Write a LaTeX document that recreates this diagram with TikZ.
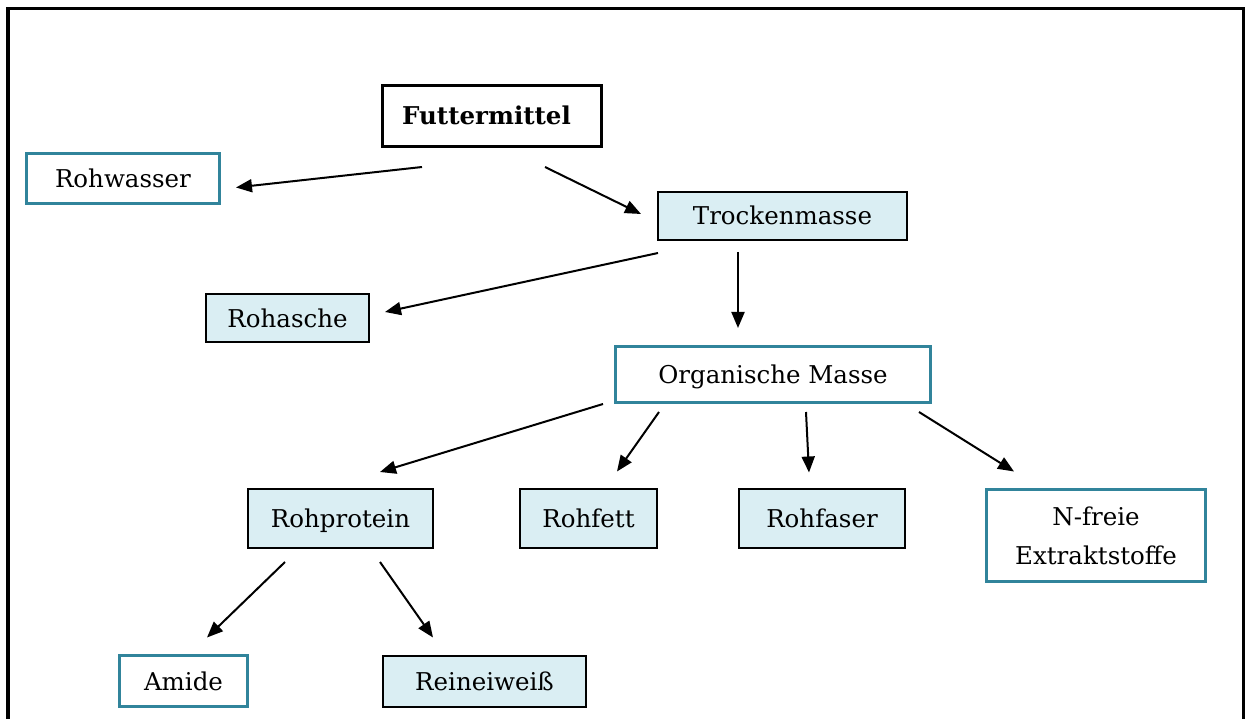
\documentclass[tikz,border=0pt]{standalone}
\usepackage{fontspec}
\setmainfont{DejaVu Serif}
\usetikzlibrary{arrows.meta}
\definecolor{tealline}{HTML}{31849B}
\definecolor{paleblue}{HTML}{DAEEF3}
\begin{document}
\begin{tikzpicture}[x=1pt,y=1pt,
  every node/.style={font=\fontsize{24.5pt}{39pt}\selectfont, inner sep=0pt, text height=18pt, text depth=0pt},
  tealbox/.style={draw=tealline, line width=3.5pt, fill=white},
  bluebox/.style={draw=black, line width=2pt, fill=paleblue},
  blackbox/.style={draw=black, line width=3.5pt, fill=white},
  conn/.style={line width=2pt, -{Triangle[length=16pt,width=13pt]}}]
\useasboundingbox (0,0) rectangle (1245,-719);
% outer frame
\draw[line width=3.5pt] (8,-719) -- (8,-8.5) -- (1243.5,-8.5) -- (1243.5,-719);
% nodes
\node[blackbox, minimum width=219pt, minimum height=61pt] (futter) at (492,-116) {\bfseries Futtermittel\hspace*{11pt}};
\node[tealbox, minimum width=193pt, minimum height=50pt] (rohwasser) at (123,-178.5) {Rohwasser};
\node[bluebox, minimum width=249.5pt, minimum height=48.5pt] (trocken) at (782.5,-216) {Trockenmasse};
\node[bluebox, minimum width=163.5pt, minimum height=48.5pt] (rohasche) at (287.5,-318) {Rohasche};
\node[tealbox, minimum width=315pt, minimum height=56pt] (organ) at (773,-374.5) {Organische Masse};
\node[bluebox, minimum width=185.5pt, minimum height=59.5pt] (rohprotein) at (340.5,-518.5) {Rohprotein};
\node[bluebox, minimum width=137.5pt, minimum height=59.5pt] (rohfett) at (588.5,-518.5) {Rohfett};
\node[bluebox, minimum width=166.5pt, minimum height=59.5pt] (rohfaser) at (822,-518.5) {Rohfaser};
\node[tealbox, minimum width=219pt, minimum height=92pt, align=center, text height=, text depth=] (nfreie) at (1096,-535.5) {N-freie\\Extraktstoffe};
\node[tealbox, minimum width=128pt, minimum height=51pt] (amide) at (183.5,-681) {Amide};
\node[bluebox, minimum width=203.5pt, minimum height=51.5pt] (reinei) at (484.5,-681.5) {Reineiweiß};
% connector end points
\coordinate (a1s) at (422,-167);  \coordinate (a1e) at (236,-187.5);
\coordinate (a2s) at (545,-167);  \coordinate (a2e) at (641,-214);
\coordinate (a3s) at (658,-253);  \coordinate (a3e) at (385,-312);
\coordinate (a4s) at (738,-252);  \coordinate (a4e) at (738,-328);
\coordinate (a5s) at (603,-404);  \coordinate (a5e) at (380,-472);
\coordinate (a6s) at (659,-412);  \coordinate (a6e) at (617,-471.5);
\coordinate (a7s) at (806,-412);  \coordinate (a7e) at (809,-472.5);
\coordinate (a8s) at (919,-412);  \coordinate (a8e) at (1014,-471.5);
\coordinate (a9s) at (285,-562);  \coordinate (a9e) at (207,-637.5);
\coordinate (a10s) at (380,-562); \coordinate (a10e) at (433,-637.5);
% connectors
\draw[conn] (a1s) -- (a1e);
\draw[conn] (a2s) -- (a2e);
\draw[conn] (a3s) -- (a3e);
\draw[conn] (a4s) -- (a4e);
\draw[conn] (a5s) -- (a5e);
\draw[conn] (a6s) -- (a6e);
\draw[conn] (a7s) -- (a7e);
\draw[conn] (a8s) -- (a8e);
\draw[conn] (a9s) -- (a9e);
\draw[conn] (a10s) -- (a10e);
\end{tikzpicture}
\end{document}
